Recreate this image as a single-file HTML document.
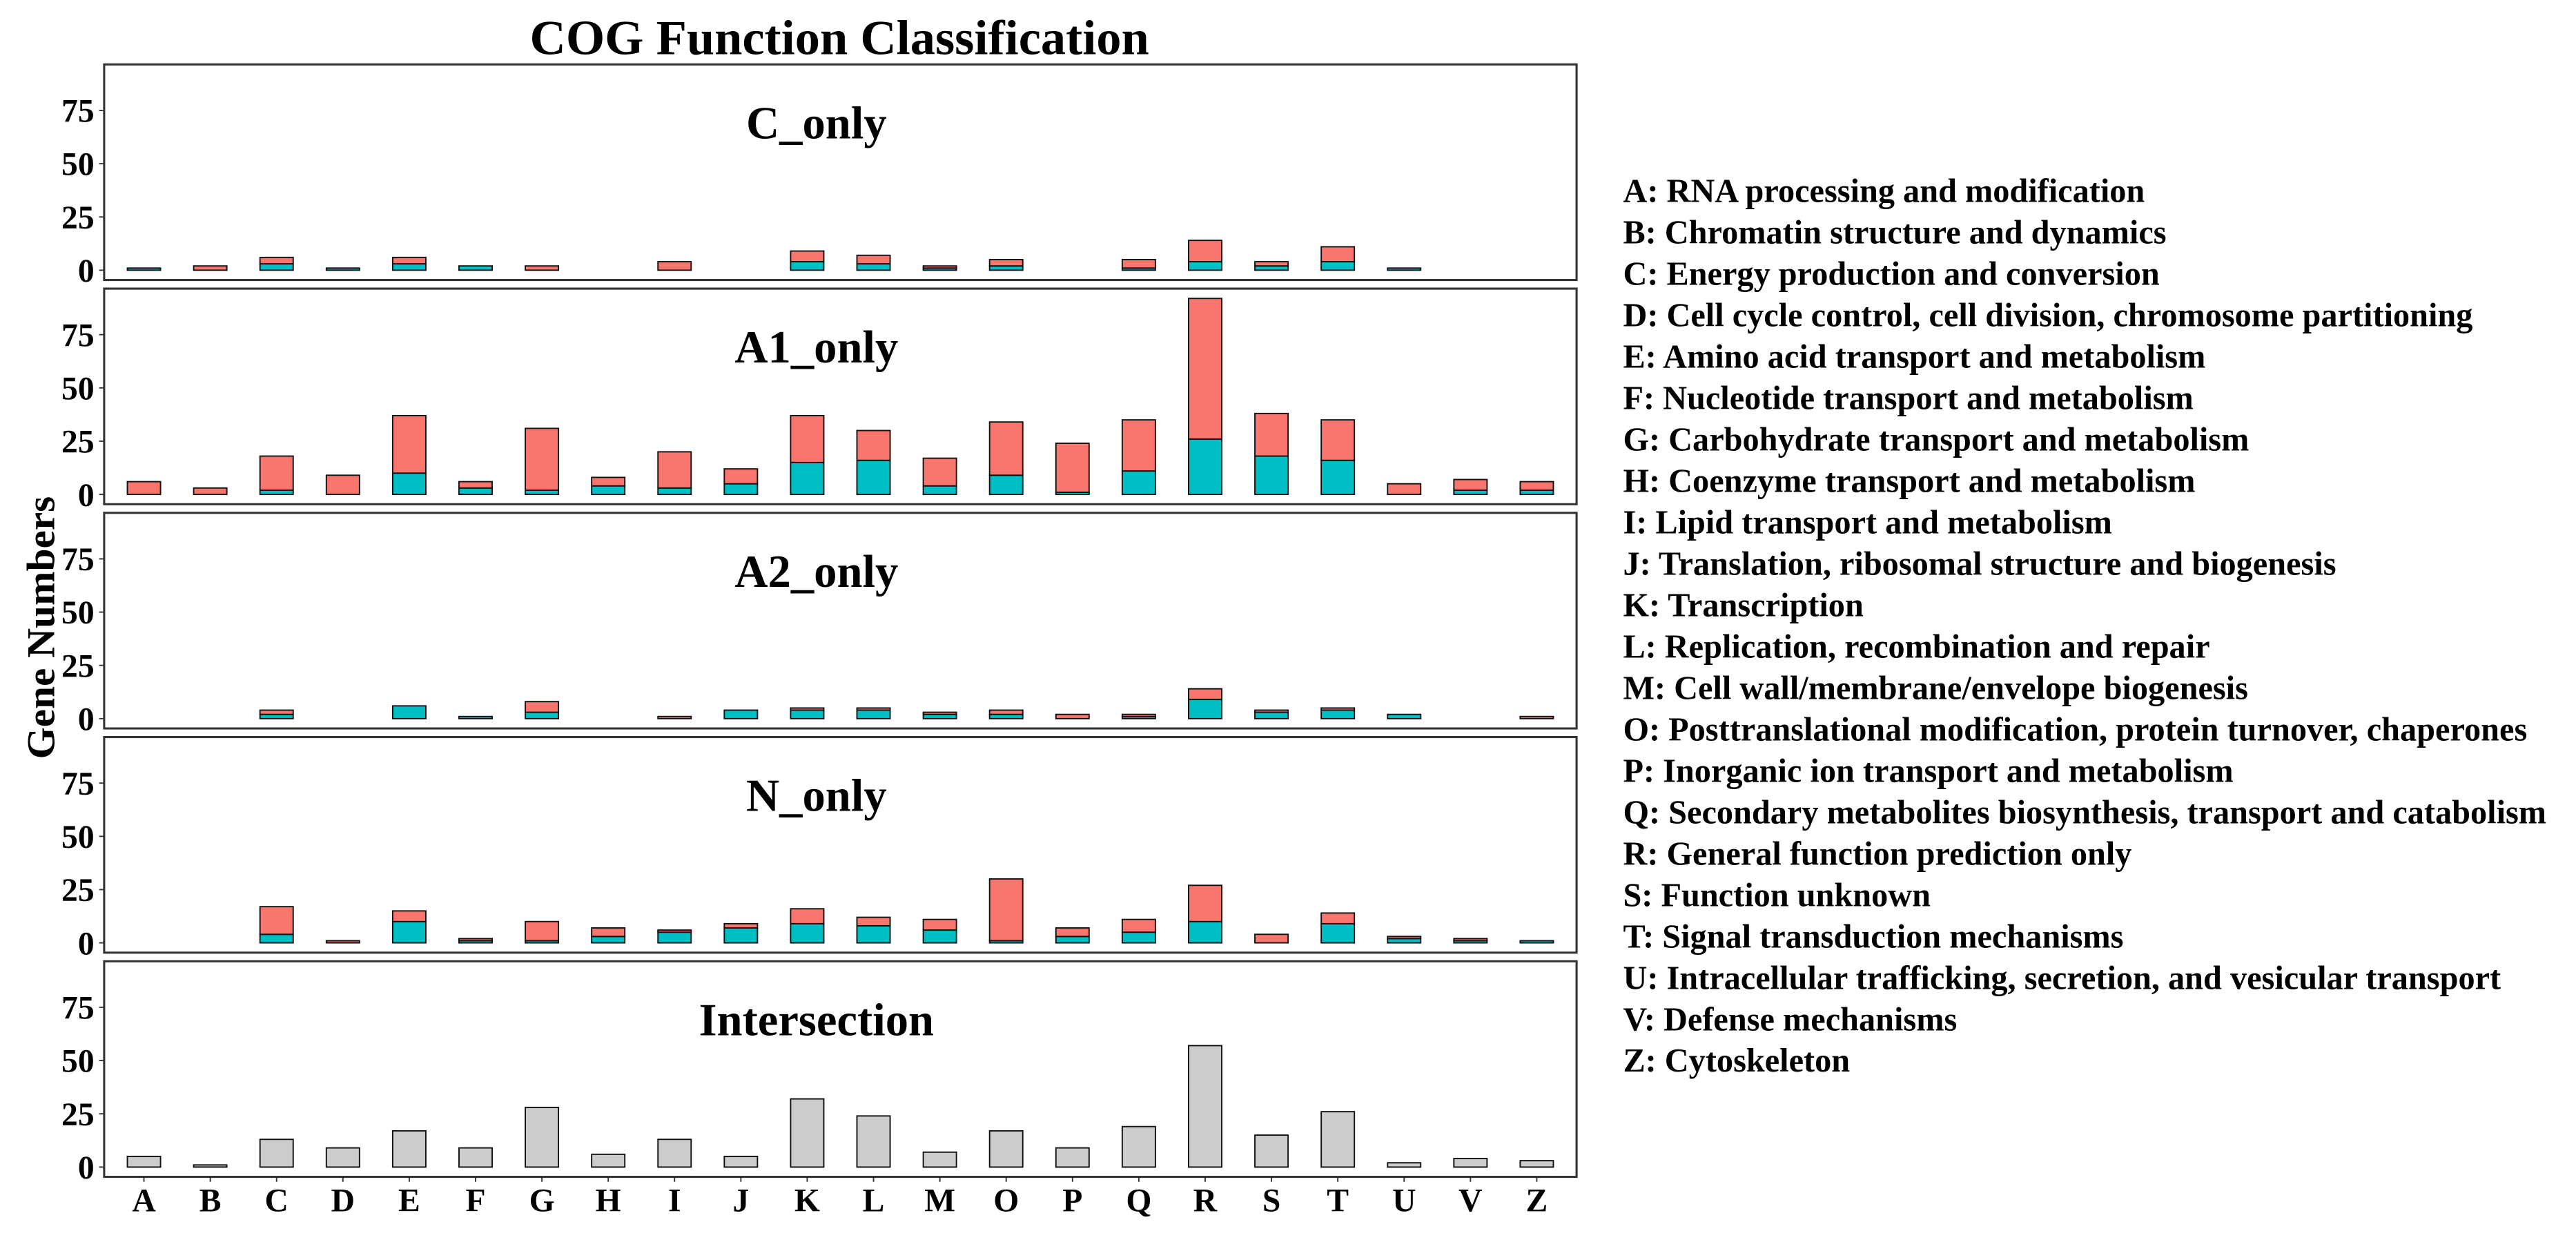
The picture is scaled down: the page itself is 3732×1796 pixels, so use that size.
<!DOCTYPE html>
<html><head><meta charset="utf-8"><title>COG Function Classification</title>
<style>
html,body{margin:0;padding:0;background:#fff;}
svg{display:block;font-family:"Liberation Serif",serif;font-weight:bold;}
</style></head>
<body>
<svg id="chart" xmlns="http://www.w3.org/2000/svg" width="3732" height="1796" viewBox="0 0 3732 1796">
<g id="root" transform="scale(2.38)"></g>
</svg>
<script>
const categories = ["A","B","C","D","E","F","G","H","I","J","K","L","M","O","P","Q","R","S","T","U","V","Z"];
const panelNames = ["C_only","A1_only","A2_only","N_only","Intersection"];
const cOnlyTotal = [1,2,6,1,6,2,2,0,4,0,9,7,2,5,0,5,14,4,11,1,0,0];
const cOnlyCyan  = [1,0,3,1,3,2,0,0,0,0,4,3,1,2,0,1,4,2,4,1,0,0];
const a1Total = [6,3,18,9,37,6,31,8,20,12,37,30,17,34,24,35,92,38,35,5,7,6];
const a1Cyan  = [0,0,2,0,10,3,2,4,3,5,15,16,4,9,1,11,26,18,16,0,2,2];
const a2Total = [0,0,4,0,6,1,8,0,1,4,5,5,3,4,2,2,14,4,5,2,0,1];
const a2Cyan  = [0,0,2,0,6,1,3,0,0,4,4,4,2,2,0,1,9,3,4,2,0,0];
const nTotal = [0,0,17,1,15,2,10,7,6,9,16,12,11,30,7,11,27,4,14,3,2,1];
const nCyan  = [0,0,4,0,10,1,1,3,5,7,9,8,6,1,3,5,10,0,9,2,1,1];
const interTotal = [5,1,13,9,17,9,28,6,13,5,32,24,7,17,9,19,57,15,26,2,4,3];
const yTicks = [0,25,50,75];
const legendLabels = [
"A: RNA processing and modification",
"B: Chromatin structure and dynamics",
"C: Energy production and conversion",
"D: Cell cycle control, cell division, chromosome partitioning",
"E: Amino acid transport and metabolism",
"F: Nucleotide transport and metabolism",
"G: Carbohydrate transport and metabolism",
"H: Coenzyme transport and metabolism",
"I: Lipid transport and metabolism",
"J: Translation, ribosomal structure and biogenesis",
"K: Transcription",
"L: Replication, recombination and repair",
"M: Cell wall/membrane/envelope biogenesis",
"O: Posttranslational modification, protein turnover, chaperones",
"P: Inorganic ion transport and metabolism",
"Q: Secondary metabolites biosynthesis, transport and catabolism",
"R: General function prediction only",
"S: Function unknown",
"T: Signal transduction mechanisms",
"U: Intracellular trafficking, secretion, and vesicular transport",
"V: Defense mechanisms",
"Z: Cytoskeleton"];

const NS="http://www.w3.org/2000/svg";
const root=document.getElementById('root');
function mk(tag,attrs,parent){const e=document.createElementNS(NS,tag);for(const k in attrs)e.setAttribute(k,attrs[k]);(parent||root).appendChild(e);return e;}

const X0=63.4, X1=959.7, PT0=39.2, PSTEP=136.45, PH=131.2;
const yMin=-4.6, yMax=96.6;
const n=categories.length;
function xScale(i){return X0+(i+1-0.4)*(X1-X0)/(n-1+1.2);}
const bw=0.5*(X1-X0)/(n+0.2);
function yScale(p,v){const top=PT0+p*PSTEP;return top+PH-(v-yMin)/(yMax-yMin)*PH;}

const title=mk('text',{x:511,y:33,'text-anchor':'middle','font-size':30,textLength:377,lengthAdjust:'spacingAndGlyphs'});
title.textContent='COG Function Classification';



const yt=mk('text',{x:0,y:0,'text-anchor':'middle','font-size':24,transform:'translate(33,382) rotate(-90)',textLength:160,lengthAdjust:'spacingAndGlyphs'});
yt.textContent='Gene Numbers';



const series=[[cOnlyTotal,cOnlyCyan],[a1Total,a1Cyan],[a2Total,a2Cyan],[nTotal,nCyan],[interTotal,null]];
for(let p=0;p<5;p++){
  const g=mk('g',{});
  
  
  const top=PT0+p*PSTEP;
  const lab=mk('text',{x:497,y:top+45,'text-anchor':'middle','font-size':28},g);
  lab.textContent=panelNames[p];
  
  
  yTicks.forEach(t=>{
    const y=yScale(p,t);
    const tk=mk('line',{x1:X0-3,x2:X0,y1:y,y2:y,stroke:'#333','stroke-width':0.8},g);
    
    
    const tl=mk('text',{x:X0-6,y:y+7,'text-anchor':'end','font-size':20},g);
    tl.textContent=t;
    
    
  });
  const [tot,cy]=series[p];
  categories.forEach((c,i)=>{
    const x=xScale(i)-bw/2;
    if(cy===null){
      if(tot[i]>0){
        const r=mk('rect',{x:x,y:yScale(p,tot[i]),width:bw,height:yScale(p,0)-yScale(p,tot[i]),fill:'#CCCCCC',stroke:'#111','stroke-width':0.8},g);
        
        
      }
    } else {
      if(cy[i]>0){
        const r=mk('rect',{x:x,y:yScale(p,cy[i]),width:bw,height:yScale(p,0)-yScale(p,cy[i]),fill:'#00BFC4',stroke:'#111','stroke-width':0.8},g);
        
        
      }
      if(tot[i]>cy[i]){
        const r=mk('rect',{x:x,y:yScale(p,tot[i]),width:bw,height:yScale(p,cy[i])-yScale(p,tot[i]),fill:'#F8766D',stroke:'#111','stroke-width':0.8},g);
        
        
      }
    }
  });
  const border=mk('rect',{x:X0,y:top,width:X1-X0,height:PH,fill:'none',stroke:'#333','stroke-width':1.3},g);
  
  
}
const lastBottom=PT0+4*PSTEP+PH;
categories.forEach((c,i)=>{
  const x=xScale(i);
  const tk=mk('line',{x1:x,x2:x,y1:lastBottom,y2:lastBottom+3,stroke:'#333','stroke-width':0.8});
  
  
  const t=mk('text',{x:x,y:lastBottom+21,'text-anchor':'middle','font-size':20});
  t.textContent=c;
  
  
});
const lg=mk('g',{});


legendLabels.forEach((s,i)=>{
  const t=mk('text',{x:988,y:123+i*25.2,'font-size':20.3},lg);
  t.textContent=s;
  
  
});
</script>
</body></html>
